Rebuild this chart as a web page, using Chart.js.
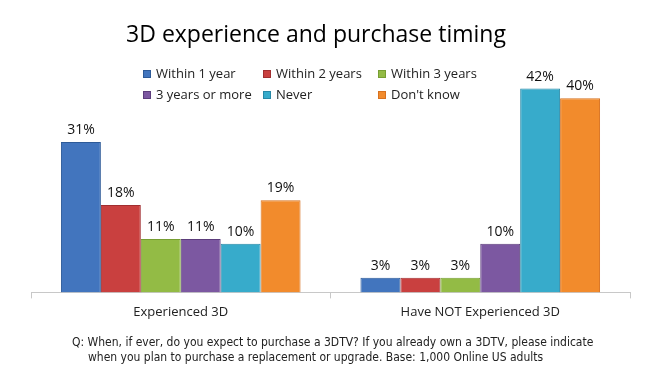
<!DOCTYPE html>
<html>
<head>
<meta charset="utf-8">
<script src="https://cdn.jsdelivr.net/npm/chart.js@4/dist/chart.umd.min.js"></script>
<style>
  body { margin: 0; background: #fff; }
  #wrap { position: relative; width: 660px; height: 377px; }
  #chart { position: absolute; left: 0; top: 0; }
  #title { position: absolute; left: 0; top: 18px; width: 632px; text-align: center; font: 23px 'Open Sans', sans-serif; color: #000; line-height: 30px; }
  .legend-item { position: absolute; font: 13px 'Open Sans', sans-serif; color: #222; line-height: 16px; white-space: nowrap; }
  .legend-item span { display: inline-block; width: 8px; height: 8px; margin-right: 5px; vertical-align: 0px; box-sizing: border-box; }
  #note { position: absolute; left: 72px; top: 335px; width: 588px; font: 12px 'DejaVu Sans Condensed', sans-serif; color: #222; line-height: 15px; padding-left: 16px; text-indent: -16px; box-sizing: border-box; white-space: nowrap; }
</style>
</head>
<body>
<div id="wrap">
  <canvas id="chart" width="660" height="377"></canvas>
  <div id="title">3D experience and purchase timing</div>
  <div id="legend"></div>
  <div id="note">Q: When, if ever, do you expect to purchase a 3DTV? If you already own a 3DTV, please indicate<br>when you plan to purchase a replacement or upgrade. Base: 1,000 Online US adults</div>
</div>
<script>
const categories = ['Experienced 3D', 'Have NOT Experienced 3D'];
const seriesNames = ['Within 1 year', 'Within 2 years', 'Within 3 years', '3 years or more', 'Never', "Don't know"];
const within1 = [31, 3];
const within2 = [18, 3];
const within3 = [11, 3];
const moreThan3 = [11, 10];
const never = [10, 42];
const dontKnow = [19, 40];
const seriesValues = [within1, within2, within3, moreThan3, never, dontKnow];

// top / bottom shade for each series
const colors = [
    ['#4275be', '#2d5a98'],
    ['#c9403f', '#a12e30'],
    ['#93bb45', '#779e33'],
    ['#7c58a1', '#5c3d7c'],
    ['#37abcb', '#2788a6'],
    ['#f28b2c', '#d7711f']
];

// legend laid out in 3 columns like the original
const legendCols = [143, 263, 378];
const legendRows = [65, 86];
const legendEl = document.getElementById('legend');
seriesNames.forEach((name, i) => {
    const div = document.createElement('div');
    div.className = 'legend-item';
    div.style.left = legendCols[i % 3] + 'px';
    div.style.top = legendRows[Math.floor(i / 3)] + 'px';
    div.innerHTML = `<span style="background:${colors[i][0]};border:1px solid ${colors[i][1]}"></span>${name}`;
    legendEl.appendChild(div);
});

const valueLabels = {
    id: 'valueLabels',
    afterDatasetsDraw(chart) {
        const ctx = chart.ctx;
        ctx.save();
        ctx.font = "14px 'Open Sans', sans-serif";
        ctx.fillStyle = '#111';
        ctx.textAlign = 'center';
        ctx.textBaseline = 'bottom';
        chart.data.datasets.forEach((ds, i) => {
            chart.getDatasetMeta(i).data.forEach((bar, j) => {
                ctx.fillText(ds.data[j] + '%', bar.x, bar.y - 5);
            });
        });
        ctx.restore();
    }
};

const chart = new Chart(document.getElementById('chart'), {
    type: 'bar',
    data: {
        labels: categories,
        datasets: seriesValues.map((vals, i) => ({
            label: seriesNames[i],
            data: vals,
            backgroundColor: colors[i][0],
            borderColor: colors[i][1],
            borderWidth: 1,
            categoryPercentage: 0.8,
            barPercentage: 1.0
        }))
    },
    options: {
        responsive: false,
        animation: false,
        layout: { padding: { left: 31, right: 30, top: 74, bottom: 51 } },
        plugins: {
            legend: { display: false },
            tooltip: { enabled: false }
        },
        scales: {
            x: {
                grid: { drawOnChartArea: false, drawTicks: true, tickLength: 6, color: '#c8c8c8' },
                border: { color: '#c8c8c8' },
                ticks: { color: '#222', padding: 6, font: { family: "'Open Sans', sans-serif", size: 13 } }
            },
            y: {
                display: false,
                min: 0,
                max: 45
            }
        }
    },
    plugins: [valueLabels]
});

// vertical shading on the bars once the chart area is known
const area = chart.chartArea;
chart.data.datasets.forEach((ds, i) => {
    const g = chart.ctx.createLinearGradient(0, area.top, 0, area.bottom);
    g.addColorStop(0, colors[i][0]);
    g.addColorStop(1, colors[i][1]);
    ds.backgroundColor = g;
});
chart.update('none');
</script>
</body>
</html>
